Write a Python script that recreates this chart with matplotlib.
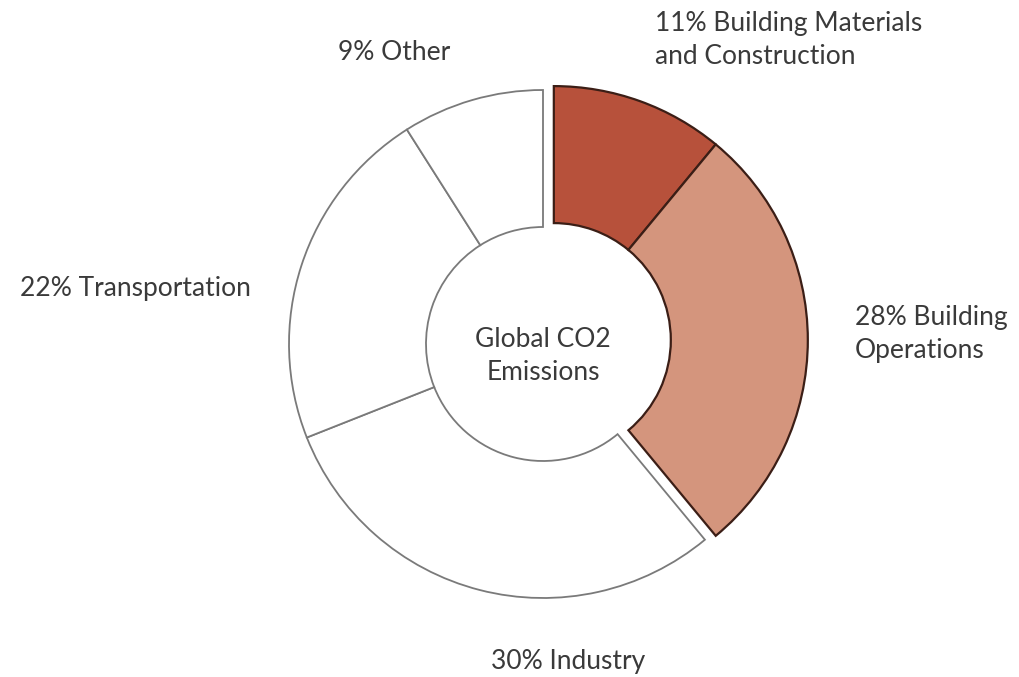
import matplotlib
matplotlib.use("Agg")
import matplotlib.pyplot as plt
import numpy as np

# emissions share by sector, clockwise from 12 o'clock
sectors = ["Building Materials\nand Construction", "Building\nOperations",
           "Industry", "Transportation", "Other"]
shares = [11, 28, 30, 22, 9]
colors = ["#b7513b", "#d4957d", "white", "white", "white"]
edges = ["#3b1e16", "#3b1e16", "#7a7a7a", "#7a7a7a", "#7a7a7a"]
highlight = [True, True, False, False, False]

W, H = 1020, 677
fig = plt.figure(figsize=(W / 100, H / 100), dpi=100)
ax = fig.add_axes([0, 0, 1, 1])

cx, cy = 543, H - 344
r_out, r_in = 254, 117

wedges, _ = ax.pie(shares, radius=r_out, center=(cx, cy), startangle=90,
                   counterclock=False, colors=colors,
                   wedgeprops=dict(width=r_out - r_in, linewidth=1.3),
                   frame=True)
for w, ec in zip(wedges, edges):
    w.set_edgecolor(ec)
ax.set_xlim(0, W)
ax.set_ylim(0, H)
ax.set_aspect("equal")
ax.axis("off")

# pull the building-related wedges out together along their mid angle
hl_total = sum(s for s, h in zip(shares, highlight) if h)
mid = np.deg2rad(90 - hl_total / 100 * 360 / 2)
shift = 11.5
for w, h in zip(wedges, highlight):
    if h:
        w.set_center((cx + shift * np.cos(mid), cy + shift * np.sin(mid)))
        w.set_linewidth(1.6)

font = dict(family=["Lato", "DejaVu Sans"], fontweight="normal", fontsize=19,
            color="#3a3a3a", linespacing=1.38)
ax.text(655, H - 11, f"{shares[0]}% {sectors[0]}", ha="left", va="top", **font)
ax.text(855, H - 305, f"{shares[1]}% {sectors[1]}", ha="left", va="top", **font)
ax.text(568, H - 662, f"{shares[2]}% {sectors[2]}", ha="center", va="center", **font)
ax.text(135, H - 288, f"{shares[3]}% {sectors[3]}", ha="center", va="center", **font)
ax.text(394, H - 52, f"{shares[4]}% {sectors[4]}", ha="center", va="center", **font)
ax.text(cx, cy - 12, "Global CO2\nEmissions", ha="center", va="center", **font)

fig.savefig("out.png", dpi=100, facecolor="white")
